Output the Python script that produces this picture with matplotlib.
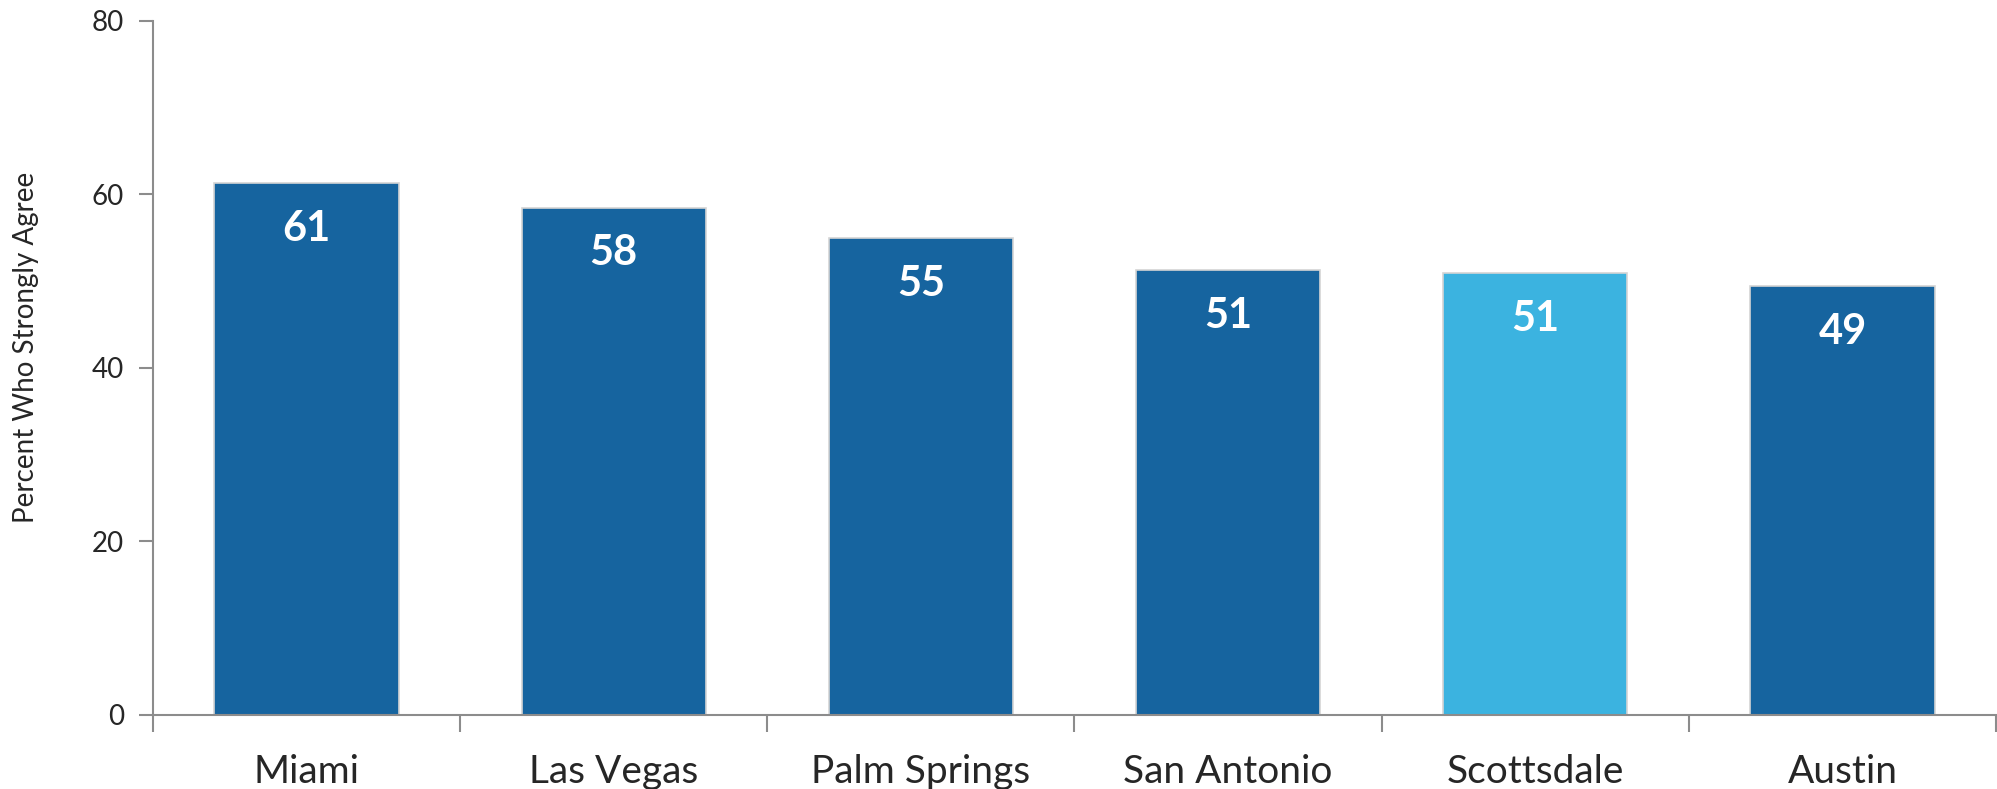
import matplotlib.pyplot as plt
import numpy as np

plt.rcParams['font.family'] = ['Lato', 'DejaVu Sans']

cities = ["Miami", "Las Vegas", "Palm Springs", "San Antonio", "Scottsdale", "Austin"]
percent = [61.3, 58.5, 55.0, 51.3, 50.9, 49.4]
highlight = "Scottsdale"

dark_blue = "#16649f"
light_blue = "#3bb3e0"
axis_grey = "#8c8c8c"
text_col = "#262626"

fig = plt.figure(figsize=(19.97, 7.89), dpi=100)
ax = fig.add_axes([0.0766, 0.0938, 0.9229, 0.8796])

x = np.arange(len(cities))
colors = [light_blue if c == highlight else dark_blue for c in cities]
bars = ax.bar(x, percent, width=0.6, color=colors, edgecolor="#d4d4d4", linewidth=1.2, zorder=2)

for b, v in zip(bars, percent):
    ax.annotate(f"{v:.0f}", (b.get_x() + b.get_width() / 2, v),
                xytext=(0, -33), textcoords="offset points",
                ha="center", va="center", color="white",
                fontsize=30, fontweight="bold")

ax.set_xlim(-0.5, len(cities) - 0.5)
ax.set_ylim(0, 80)
ax.set_yticks([0, 20, 40, 60, 80])

# city names centred under bars, tick marks on the category boundaries
ax.set_xticks(x)
ax.set_xticklabels(cities, fontsize=28, color=text_col)
ax.tick_params(axis="x", which="major", length=0, pad=28)
ax.set_xticks(np.arange(len(cities) + 1) - 0.5, minor=True)
ax.tick_params(axis="x", which="minor", length=12, width=1.5, color=axis_grey)

ax.tick_params(axis="y", length=10, width=1.5, color=axis_grey, labelsize=20,
               labelcolor=text_col, pad=11)

for s in ["top", "right"]:
    ax.spines[s].set_visible(False)
for s in ["left", "bottom"]:
    ax.spines[s].set_color(axis_grey)
    ax.spines[s].set_linewidth(1.5)

ax.set_ylabel("Percent Who Strongly Agree", fontsize=20, color=text_col)
ax.yaxis.set_label_coords(-0.062, 0.53)

fig.savefig("out.png", dpi=100)
